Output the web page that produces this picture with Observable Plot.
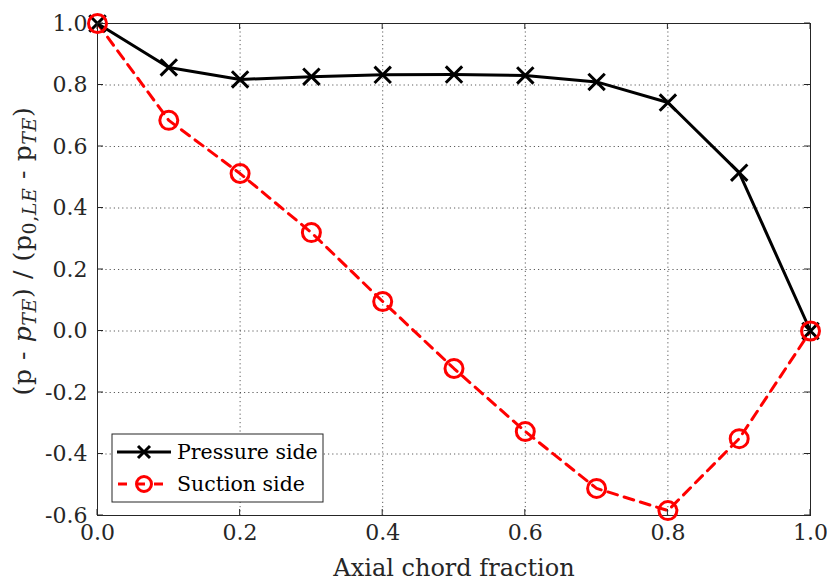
<!DOCTYPE html>
<html><head><meta charset="utf-8">
<script src="https://cdn.jsdelivr.net/npm/d3@7"></script>
<script src="https://cdn.jsdelivr.net/npm/@observablehq/plot@0.6"></script>
<style>
body{margin:0;background:#fff}
#chart svg text, #chart svg tspan { font-family: "DejaVu Serif", serif !important; }
</style>
</head><body><div id="chart"></div>
<script>
const chordFraction = [0, 0.1, 0.2, 0.3, 0.4, 0.5, 0.6, 0.7, 0.8, 0.9, 1.0];
const pressureSide = [1.0, 0.857, 0.818, 0.827, 0.833, 0.834, 0.831, 0.81, 0.743, 0.515, 0.0];
const suctionSide = [1.0, 0.685, 0.512, 0.32, 0.096, -0.122, -0.327, -0.512, -0.584, -0.35, 0.0];
const xTicks = [0, 0.2, 0.4, 0.6, 0.8, 1.0];
const yTicks = [-0.6, -0.4, -0.2, 0, 0.2, 0.4, 0.6, 0.8, 1.0];
const seriesNames = ["Pressure side", "Suction side"];

const pData = chordFraction.map((x, i) => ({x, y: pressureSide[i]}));
const sData = chordFraction.map((x, i) => ({x, y: suctionSide[i]}));
const fmt = v => (Math.abs(v) < 1e-9 ? 0 : v).toFixed(1);
const ink = "#262626";
const font = "DejaVu Serif";

const plot = Plot.plot({
  width: 827, height: 586,
  marginLeft: 97, marginRight: 17, marginTop: 23, marginBottom: 71,
  style: {fontFamily: font, fontSize: "22px", color: ink, background: "white"},
  x: {domain: [0, 1], label: null},
  y: {domain: [-0.6, 1], label: null},
  marks: [
    Plot.gridX(xTicks, {stroke: ink, strokeOpacity: 0.75, strokeDasharray: "1.2,3", strokeWidth: 1}),
    Plot.gridY(yTicks, {stroke: ink, strokeOpacity: 0.75, strokeDasharray: "1.2,3", strokeWidth: 1}),
    Plot.axisX(xTicks, {tickFormat: fmt, tickSize: 0, tickPadding: 9, fontSize: 22, color: ink}),
    Plot.axisY(yTicks, {tickFormat: fmt, tickSize: 0, tickPadding: 10, fontSize: 22, color: ink}),
    Plot.frame({stroke: ink, strokeWidth: 1}),
    Plot.line(pData, {x: "x", y: "y", stroke: "black", strokeWidth: 3}),
    Plot.line(sData, {x: "x", y: "y", stroke: "#ff0000", strokeWidth: 3, strokeDasharray: "10,7"}),
    Plot.dot(pData, {x: "x", y: "y", symbol: "times", r: 7.5, stroke: "black", strokeWidth: 3}),
    Plot.dot(sData, {x: "x", y: "y", symbol: "circle", r: 9, stroke: "#ff0000", strokeWidth: 3, fill: "none"})
  ]
});
document.getElementById("chart").appendChild(plot);

const svg = d3.select(plot);
const L = 97, R = 810, T = 23, B = 515, tl = 6;
const xs = d3.scaleLinear([0, 1], [L, R]);
const ys = d3.scaleLinear([-0.6, 1], [B, T]);
const tg = svg.append("g").attr("stroke", ink).attr("stroke-width", 1);
xTicks.forEach(v => {
  tg.append("line").attr("x1", xs(v)).attr("x2", xs(v)).attr("y1", B).attr("y2", B - tl);
  tg.append("line").attr("x1", xs(v)).attr("x2", xs(v)).attr("y1", T).attr("y2", T + tl);
});
yTicks.forEach(v => {
  tg.append("line").attr("y1", ys(v)).attr("y2", ys(v)).attr("x1", L).attr("x2", L + tl);
  tg.append("line").attr("y1", ys(v)).attr("y2", ys(v)).attr("x1", R).attr("x2", R - tl);
});

svg.append("text").attr("x", 454).attr("y", 576).attr("text-anchor", "middle")
  .attr("font-size", 24).attr("fill", ink).text("Axial chord fraction");

const yl = svg.append("text").attr("transform", `translate(31,251) rotate(-90)`)
  .attr("text-anchor", "middle").attr("font-size", 25).attr("fill", ink)
  .attr("letter-spacing", 0.6);
yl.append("tspan").text("(p - ");
yl.append("tspan").attr("font-style", "italic").text("p");
yl.append("tspan").attr("font-style", "italic").attr("font-size", 19).attr("dy", 5).text("TE");
yl.append("tspan").attr("dy", -5).text(") / (p");
yl.append("tspan").attr("font-size", 19).attr("dy", 5).text("0,");
yl.append("tspan").attr("font-style", "italic").attr("font-size", 19).text("LE");
yl.append("tspan").attr("dy", -5).text(" - p");
yl.append("tspan").attr("font-style", "italic").attr("font-size", 19).attr("dy", 5).text("TE");
yl.append("tspan").attr("dy", -5).text(")");

const lg = svg.append("g");
lg.append("rect").attr("x", 112).attr("y", 434).attr("width", 211).attr("height", 68)
  .attr("fill", "white").attr("stroke", ink).attr("stroke-width", 1);
const rows = [
  {name: seriesNames[0], y: 452, color: "black", dash: null, sym: "times"},
  {name: seriesNames[1], y: 484, color: "#ff0000", dash: "10,7", sym: "circle"}
];
rows.forEach(r => {
  lg.append("line").attr("x1", 117).attr("x2", 171).attr("y1", r.y).attr("y2", r.y)
    .attr("stroke", r.color).attr("stroke-width", 3).attr("stroke-dasharray", r.dash ? "9,9" : null)
    .attr("stroke-dashoffset", r.dash ? -1 : null);
  if (r.sym === "times") {
    const s = 6;
    lg.append("path").attr("d", `M${144 - s},${r.y - s}L${144 + s},${r.y + s}M${144 - s},${r.y + s}L${144 + s},${r.y - s}`)
      .attr("stroke", r.color).attr("stroke-width", 3);
  } else {
    lg.append("circle").attr("cx", 144).attr("cy", r.y).attr("r", 7.5).attr("fill", "none")
      .attr("stroke", r.color).attr("stroke-width", 3);
  }
  lg.append("text").attr("x", 177).attr("y", r.y).attr("dy", "0.35em").attr("text-anchor", "start")
    .attr("font-size", 20.5).attr("fill", "black").text(r.name);
});
</script></body></html>
